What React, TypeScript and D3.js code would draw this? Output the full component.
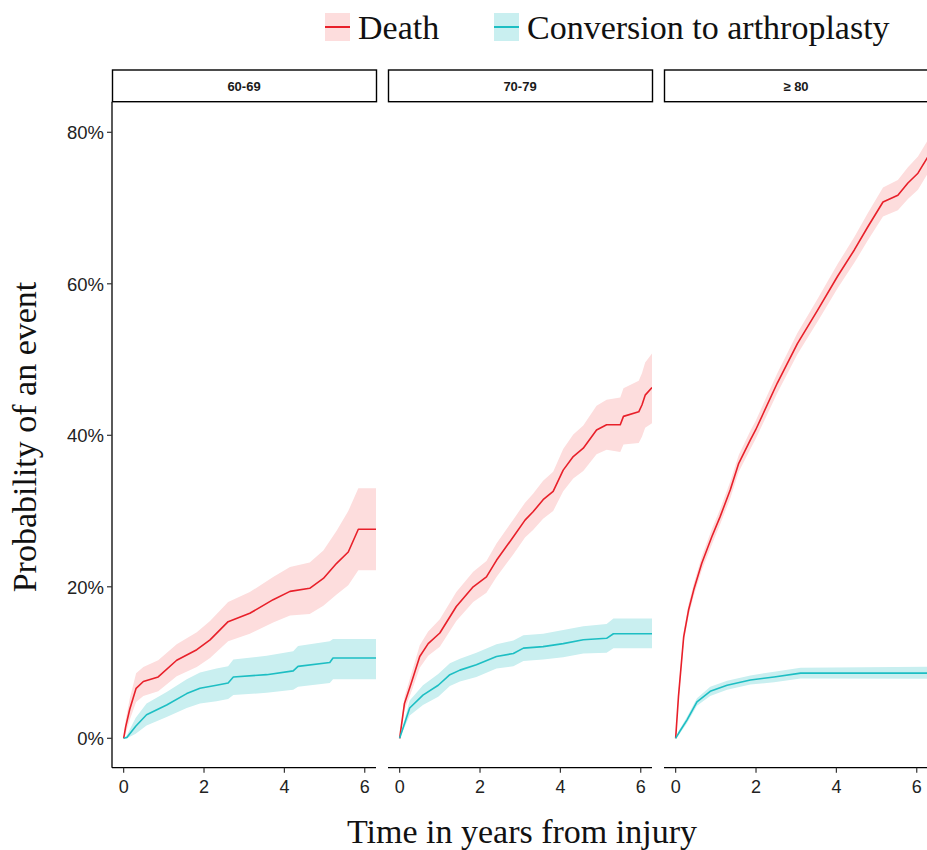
import React from "react";
import * as d3 from "d3";

// ---------- categories / labels ----------
const ageGroups = ["60-69", "70-79", "≥ 80"];
const seriesNames = ["Death", "Conversion to arthroplasty"];
const xTicks = [0, 2, 4, 6];
const yTicks = [0, 20, 40, 60, 80];

// ---------- 60-69 ----------
const p1DeathT = [0, 0.05, 0.15, 0.31, 0.49, 0.86, 1.32, 1.82, 2.15, 2.6, 3.14, 3.72, 4.14, 4.63, 4.97, 5.3, 5.59, 5.84, 6.28];
const p1DeathEst = [0, 1.5, 3.8, 6.6, 7.5, 8.1, 10.3, 11.7, 13.0, 15.4, 16.5, 18.3, 19.4, 19.8, 21.1, 23.1, 24.6, 27.6, 27.6];
const p1DeathLo = [0, 0.6, 2.4, 4.8, 5.6, 6.2, 8.2, 9.4, 10.6, 12.8, 13.8, 15.3, 16.2, 16.4, 17.5, 19.0, 20.2, 22.2, 22.2];
const p1DeathHi = [0, 2.4, 5.2, 8.6, 9.4, 10.3, 12.4, 14.0, 15.5, 18.0, 19.3, 21.3, 22.6, 23.2, 24.8, 27.4, 30.0, 33.0, 33.0];

const p1ConvT = [0, 0.08, 0.3, 0.57, 1.07, 1.57, 1.9, 2.31, 2.6, 2.73, 3.56, 4.22, 4.34, 5.13, 5.21, 6.28];
const p1ConvEst = [0, 0.1, 1.6, 3.1, 4.4, 5.9, 6.6, 7.0, 7.3, 8.1, 8.4, 8.9, 9.5, 10.0, 10.6, 10.6];
const p1ConvLo = [0, 0, 0.6, 1.7, 2.8, 4.0, 4.6, 4.9, 5.2, 5.7, 6.0, 6.4, 6.8, 7.3, 7.8, 7.8];
const p1ConvHi = [0, 0.4, 2.7, 4.6, 6.1, 7.8, 8.7, 9.2, 9.5, 10.4, 10.9, 11.5, 12.2, 12.8, 13.1, 13.1];

// ---------- 70-79 ----------
const p2DeathT = [0, 0.12, 0.29, 0.5, 0.71, 1.0, 1.41, 1.83, 2.16, 2.41, 2.83, 3.12, 3.32, 3.57, 3.82, 4.07, 4.32, 4.57, 4.9, 5.15, 5.49, 5.57, 5.95, 6.03, 6.11, 6.28];
const p2DeathEst = [0, 4.6, 7.3, 10.8, 12.5, 13.9, 17.4, 20.0, 21.3, 23.5, 26.6, 28.8, 29.9, 31.5, 32.6, 35.4, 37.2, 38.3, 40.7, 41.4, 41.4, 42.5, 43.1, 44.0, 45.3, 46.3];
const p2DeathLo = [0, 3.7, 6.1, 9.3, 10.9, 12.1, 15.5, 18.0, 19.2, 21.3, 24.3, 26.5, 27.5, 29.0, 30.0, 32.6, 34.3, 35.3, 37.5, 38.1, 37.8, 38.8, 39.0, 39.8, 41.0, 41.6];
const p2DeathHi = [0, 5.5, 8.5, 12.3, 14.1, 15.7, 19.3, 22.0, 23.4, 25.7, 28.9, 31.1, 32.3, 34.0, 35.2, 38.2, 40.1, 41.3, 43.9, 44.7, 45.0, 46.2, 47.2, 48.2, 49.6, 50.8];

const p2ConvT = [0, 0.25, 0.58, 0.96, 1.25, 1.5, 1.91, 2.41, 2.83, 3.08, 3.57, 4.07, 4.57, 5.15, 5.32, 6.28];
const p2ConvEst = [0, 4.0, 5.7, 7.0, 8.4, 9.0, 9.7, 10.8, 11.2, 11.9, 12.1, 12.5, 13.0, 13.2, 13.8, 13.8];
const p2ConvLo = [0, 3.0, 4.4, 5.5, 6.9, 7.5, 8.1, 9.2, 9.5, 10.2, 10.4, 10.7, 11.2, 11.3, 11.9, 11.9];
const p2ConvHi = [0, 5.0, 7.0, 8.5, 9.9, 10.5, 11.3, 12.4, 12.9, 13.6, 13.8, 14.3, 14.8, 15.1, 15.8, 15.8];

// ---------- >= 80 ----------
const p3DeathT = [0, 0.07, 0.2, 0.32, 0.45, 0.65, 0.9, 1.11, 1.36, 1.57, 1.86, 1.99, 2.53, 3.03, 3.53, 4.03, 4.45, 4.78, 5.16, 5.53, 5.78, 6.03, 6.28];
const p3DeathEst = [0, 5.5, 13.4, 16.9, 19.6, 23.1, 26.6, 29.3, 32.8, 36.3, 39.4, 40.7, 46.9, 52.1, 56.5, 61.0, 64.5, 67.5, 70.8, 71.7, 73.3, 74.6, 76.8];
const p3DeathLo = [0, 4.9, 12.7, 16.1, 18.8, 22.2, 25.6, 28.3, 31.7, 35.2, 38.2, 39.5, 45.6, 50.7, 55.0, 59.4, 62.8, 65.7, 68.9, 69.7, 71.2, 72.4, 74.6];
const p3DeathHi = [0, 6.1, 14.1, 17.7, 20.4, 24.0, 27.6, 30.3, 33.9, 37.4, 40.6, 41.9, 48.2, 53.5, 58.0, 62.6, 66.2, 69.3, 72.7, 73.7, 75.4, 76.8, 79.0];

const p3ConvT = [0, 0.1, 0.28, 0.53, 0.86, 1.28, 1.86, 2.45, 3.11, 6.28];
const p3ConvEst = [0, 0.9, 2.4, 4.8, 6.2, 7.0, 7.7, 8.1, 8.6, 8.6];
const p3ConvLo = [0, 0.6, 2.0, 4.3, 5.6, 6.4, 7.1, 7.4, 7.9, 7.85];
const p3ConvHi = [0, 1.2, 2.8, 5.3, 6.8, 7.6, 8.3, 8.8, 9.3, 9.45];

// ---------- styling ----------
const lineColors = ["#E8202A", "#1DBEC3"];
const fillColors = ["#FDDDDD", "#C9EFF0"];

type Pt = { t: number; est: number; lo: number; hi: number };
const zip = (t: number[], e: number[], l: number[], h: number[]): Pt[] =>
  t.map((v, i) => ({ t: v, est: e[i], lo: l[i], hi: h[i] }));

const panels = [
  [zip(p1DeathT, p1DeathEst, p1DeathLo, p1DeathHi), zip(p1ConvT, p1ConvEst, p1ConvLo, p1ConvHi)],
  [zip(p2DeathT, p2DeathEst, p2DeathLo, p2DeathHi), zip(p2ConvT, p2ConvEst, p2ConvLo, p2ConvHi)],
  [zip(p3DeathT, p3DeathEst, p3DeathLo, p3DeathHi), zip(p3ConvT, p3ConvEst, p3ConvLo, p3ConvHi)],
];

const W = 927;
const H = 850;
const panelLeft = [112, 388, 664];
const panelW = 264;
const panelTop = 101.7;
const panelBottom = 767.7;
const stripTop = 70;

const sans = "'Liberation Sans', Arial, sans-serif";
const serif = "'Liberation Serif', 'Times New Roman', serif";

export default function App() {
  const x = d3.scaleLinear().domain([-0.29, 6.28]).range([0, panelW]);
  const y = d3.scaleLinear().domain([0, 80]).range([738.3, 132.3]);

  const area = d3
    .area<Pt>()
    .x((d) => x(d.t))
    .y0((d) => y(d.lo))
    .y1((d) => y(d.hi));
  const line = d3
    .line<Pt>()
    .x((d) => x(d.t))
    .y((d) => y(d.est));

  return (
    <svg
      width={W}
      height={H}
      style={{ position: "absolute", left: 0, top: 0, background: "#fff" }}
    >
      <rect x={0} y={0} width={W} height={H} fill="#fff" />
      <defs>
        {panelLeft.map((_, i) => (
          <clipPath id={`clip${i}`} key={i}>
            <rect x={0} y={panelTop} width={panelW} height={panelBottom - panelTop} />
          </clipPath>
        ))}
      </defs>

      {/* legend */}
      {seriesNames.map((name, i) => {
        const kx = i === 0 ? 325 : 494;
        return (
          <g key={name}>
            <rect x={kx} y={13} width={25} height={28} fill={fillColors[i]} />
            <line x1={kx} x2={kx + 25} y1={27} y2={27} stroke={lineColors[i]} strokeWidth={2} />
            <text x={kx + 33} y={39} fontFamily={serif} fontSize={34} fill="#111">
              {name}
            </text>
          </g>
        );
      })}

      {panels.map((series, pi) => {
        const px = panelLeft[pi];
        return (
          <g key={pi} transform={`translate(${px},0)`}>
            {/* strip */}
            <rect
              x={0.5}
              y={stripTop}
              width={panelW}
              height={panelTop - stripTop}
              fill="#fff"
              stroke="#000"
              strokeWidth={1.4}
            />
            <text
              x={panelW / 2}
              y={(stripTop + panelTop) / 2 + 4.8}
              textAnchor="middle"
              fontFamily={sans}
              fontWeight="bold"
              fontSize={13}
              fill="#1a1a1a"
            >
              {ageGroups[pi]}
            </text>

            <g clipPath={`url(#clip${pi})`}>
              {series.map((pts, si) => (
                <path key={`a${si}`} d={area(pts) || ""} fill={fillColors[si]} />
              ))}
              {series.map((pts, si) => (
                <path
                  key={`l${si}`}
                  d={line(pts) || ""}
                  fill="none"
                  stroke={lineColors[si]}
                  strokeWidth={1.6}
                  strokeLinejoin="round"
                />
              ))}
            </g>

            {/* x axis */}
            <line x1={0} x2={panelW} y1={panelBottom} y2={panelBottom} stroke="#000" strokeWidth={1.3} />
            {xTicks.map((t) => (
              <g key={t} transform={`translate(${x(t)},${panelBottom})`}>
                <line y1={0} y2={5} stroke="#333" strokeWidth={1.2} />
                <text y={25.5} textAnchor="middle" fontFamily={sans} fontSize={18} fill="#222">
                  {t}
                </text>
              </g>
            ))}
          </g>
        );
      })}

      {/* y axis (first panel only) */}
      <line x1={112} x2={112} y1={panelTop} y2={panelBottom} stroke="#000" strokeWidth={1.3} />
      {yTicks.map((v) => (
        <g key={v} transform={`translate(112,${y(v)})`}>
          <line x1={-5} x2={0} stroke="#333" strokeWidth={1.2} />
          <text x={-8} y={7} textAnchor="end" fontFamily={sans} fontSize={18.5} fill="#222">
            {`${v}%`}
          </text>
        </g>
      ))}

      {/* axis titles */}
      <text x={522} y={843} textAnchor="middle" fontFamily={serif} fontSize={34} fill="#111">
        Time in years from injury
      </text>
      <text
        transform={`translate(36,437) rotate(-90)`}
        textAnchor="middle"
        fontFamily={serif}
        fontSize={34}
        fill="#111"
      >
        Probability of an event
      </text>
    </svg>
  );
}
